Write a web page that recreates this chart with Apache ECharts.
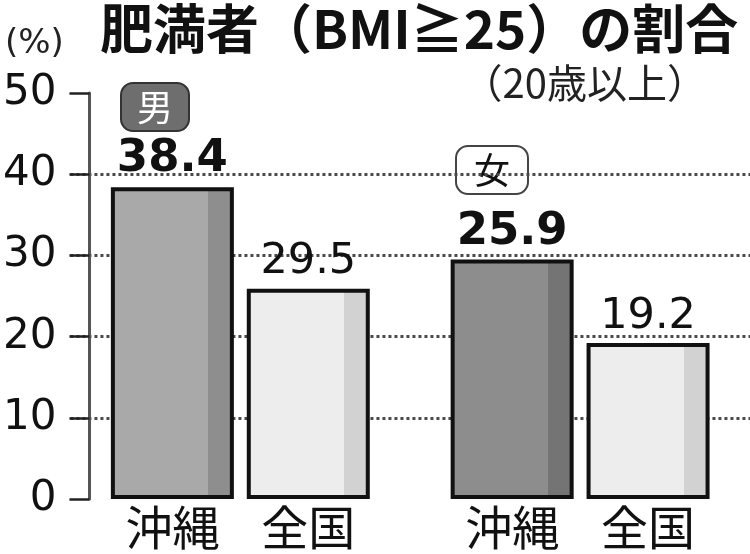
<!DOCTYPE html>
<html>
<head>
<meta charset="utf-8">
<script src="https://cdn.jsdelivr.net/npm/echarts@6/dist/echarts.min.js"></script>
<style>
html,body{margin:0;padding:0;background:#fff;}
#chart{width:750px;height:554px;}
</style>
</head>
<body>
<div id="chart"></div>
<script>
// ---- data ----
const categories = ['沖縄', '全国', '沖縄', '全国'];
const sexes = ['男', '女'];
const barValues = [38.4, 25.9, 29.5, 19.2];          // bar heights as drawn
const valueLabels = ['38.4', '29.5', '25.9', '19.2']; // values as printed above the bars
const boldLabel = [true, false, true, false];
const yTicks = [0, 10, 20, 30, 40, 50];
const titleText = '肥満者（BMI≧25）の割合';
const subtitleText = '（20歳以上）';
const unitText = '(%)';

// ---- layout (slot pattern: spacer slots between bars) ----
const slotPattern = [null, 0, null, 1, null, null, 2, null, 3, null];
const barFill = [
  ['#a9a9a9', '#8e8e8e'],
  ['#ededed', '#d2d2d2'],
  ['#8d8d8d', '#747474'],
  ['#ededed', '#d2d2d2']
];

const xData = slotPattern.map(i => i === null ? '' : categories[i]);
const seriesData = slotPattern.map(i => {
  if (i === null) return '-';
  return {
    value: barValues[i],
    itemStyle: {
      color: {
        type: 'linear', x: 0, y: 0, x2: 1, y2: 0,
        colorStops: [
          { offset: 0, color: barFill[i][0] },
          { offset: 0.79, color: barFill[i][0] },
          { offset: 0.79, color: barFill[i][1] },
          { offset: 1, color: barFill[i][1] }
        ]
      }
    },
    label: {
      formatter: valueLabels[i],
      fontWeight: boldLabel[i] ? 'bold' : 'normal',
      fontSize: boldLabel[i] ? 45 : 43
    }
  };
});

const chart = echarts.init(document.getElementById('chart'), null, { renderer: 'canvas' });
const gridColor = '#4a4a4a';
chart.setOption({
  animation: false,
  backgroundColor: '#fff',
  title: [
    { text: titleText, left: 95, top: -3,
      textStyle: { fontFamily: 'Noto Sans CJK JP', fontWeight: 'bold', fontSize: 53, color: '#111' } },
    { text: subtitleText, right: 38, top: 58,
      textStyle: { fontFamily: 'Noto Sans CJK JP', fontWeight: 'normal', fontSize: 40, color: '#222' } },
    { text: unitText, left: 0, top: 22,
      textStyle: { fontFamily: 'DejaVu Sans', fontWeight: 'normal', fontSize: 34, color: '#222' } }
  ],
  grid: { left: 69, right: 0, top: 93, bottom: 55, containLabel: false },
  xAxis: {
    type: 'category',
    data: xData,
    axisLine: { show: false },
    axisTick: { show: false },
    axisLabel: { interval: 0, margin: 5, fontFamily: 'Noto Sans CJK JP', fontSize: 47, color: '#111' }
  },
  yAxis: {
    type: 'value',
    min: yTicks[0], max: yTicks[yTicks.length - 1], interval: 10,
    offset: -19,
    axisLine: { show: true, lineStyle: { color: '#555', width: 3 } },
    axisTick: { show: true, length: 20, lineStyle: { color: '#222', width: 2.5 } },
    axisLabel: { margin: 33, fontFamily: 'DejaVu Sans', fontSize: 42, color: '#111' },
    splitLine: { show: true, lineStyle: {
      color: ['rgba(0,0,0,0)', gridColor, gridColor, gridColor, gridColor, 'rgba(0,0,0,0)'],
      width: 3, type: [3, 3] } }
  },
  series: [{
    type: 'bar',
    data: seriesData,
    barWidth: 123,
    itemStyle: { borderColor: '#111', borderWidth: 4 },
    label: { show: true, position: 'top', distance: 5, fontFamily: 'DejaVu Sans', color: '#111' },
    emphasis: { disabled: true },
    z: 3
  }],
  graphic: [
    { type: 'group', left: 120, top: 82, z: 10, children: [
      { type: 'rect', shape: { x: 0, y: 0, width: 68, height: 48, r: 12 },
        style: { fill: '#6e6e6e', stroke: '#333', lineWidth: 2 } },
      { type: 'text', x: 34, y: 24, style: { text: sexes[0], fontFamily: 'Noto Sans CJK JP', fontSize: 36,
        fill: '#fff', align: 'center', verticalAlign: 'middle' } }
    ]},
    { type: 'group', left: 455, top: 145, z: 10, children: [
      { type: 'rect', shape: { x: 0, y: 0, width: 72, height: 48, r: 12 },
        style: { fill: '#fff', stroke: '#444', lineWidth: 2 } },
      { type: 'text', x: 36, y: 24, style: { text: sexes[1], fontFamily: 'Noto Sans CJK JP', fontSize: 36,
        fill: '#111', align: 'center', verticalAlign: 'middle' } }
    ]}
  ]
});
</script>
</body>
</html>
